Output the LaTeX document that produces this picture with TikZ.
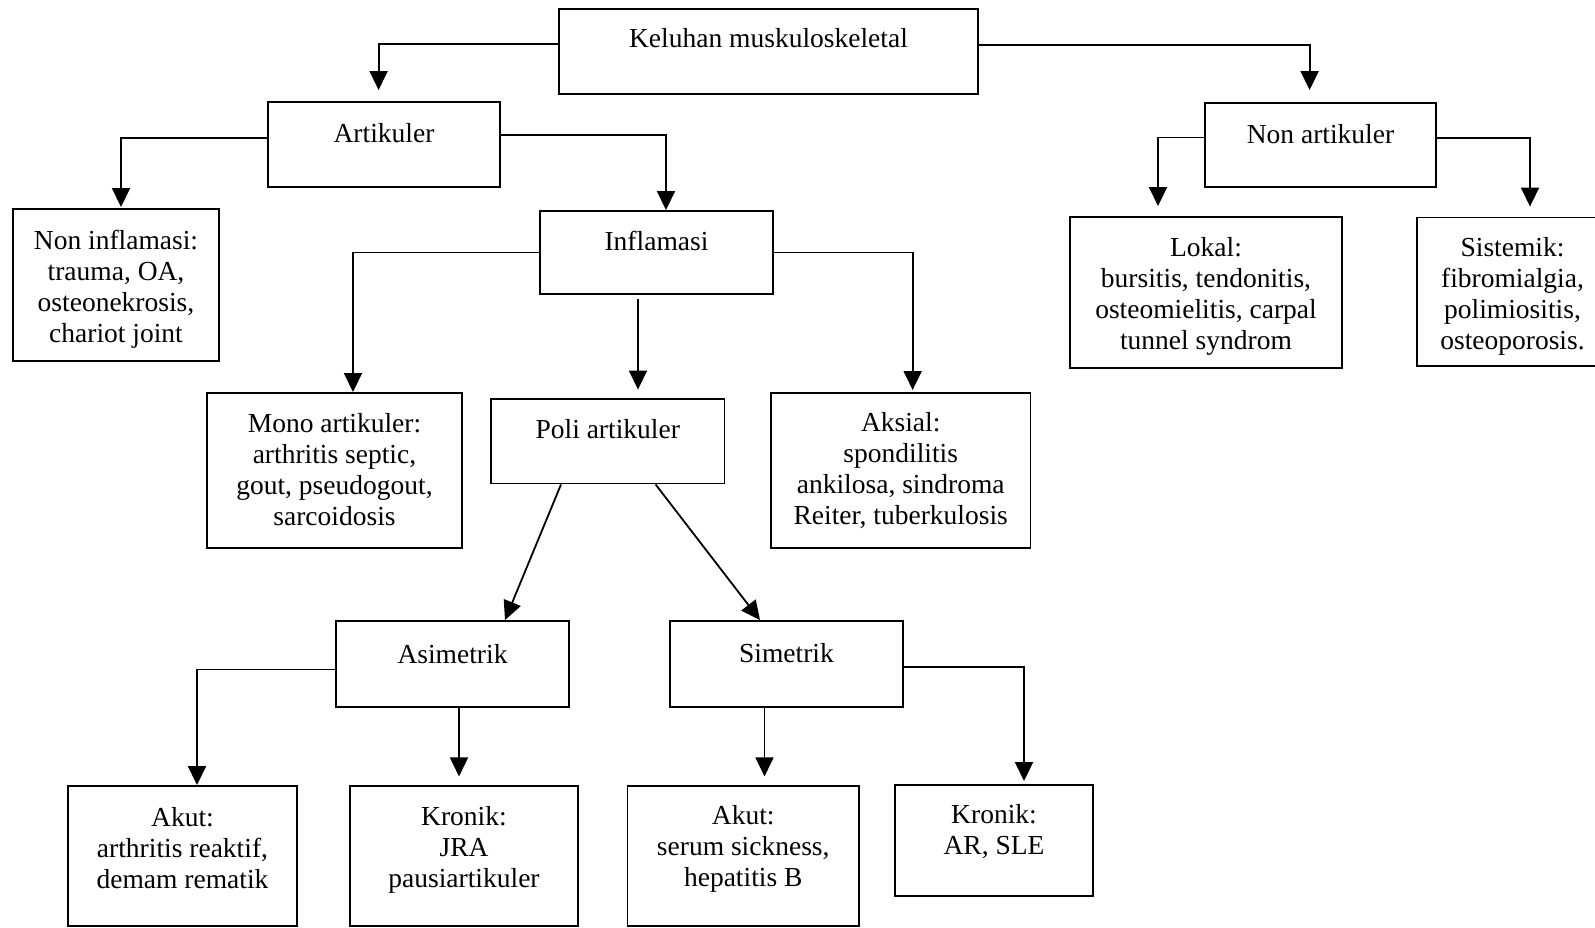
\documentclass[tikz,border=0pt]{standalone}
\usepackage{fontspec}
\setmainfont{Liberation Serif}
\usetikzlibrary{arrows.meta,calc}
\newcommand\firstl{\rule{0pt}{22pt}}
\begin{document}
\begin{tikzpicture}[x=1pt,y=-1pt,
  box/.style={draw, line width=1.9pt, inner sep=0pt, rectangle},
  txt/.style={anchor=north, align=center, inner sep=0pt, font=\fontsize{27.5}{31}\selectfont},
  arr/.style={line width=1.8pt, -{Triangle[length=19pt,width=18pt]}}]
\useasboundingbox (0,0) rectangle (1595,928);
\fill[white] (0,0) rectangle (1595,928);

% boxes
\node[box, minimum width=419pt, minimum height=85pt] (kel) at (768.5,51.5) {};
\node[box, minimum width=232pt, minimum height=85pt] (art) at (384,144.5) {};
\node[box, minimum width=231pt, minimum height=84pt] (nonart) at (1320.5,145) {};
\node[box, minimum width=206pt, minimum height=152pt] (noninf) at (116,285) {};
\node[box, minimum width=233pt, minimum height=83pt] (inf) at (656.5,252.5) {};
\node[box, minimum width=272pt, minimum height=151pt] (lokal) at (1206,292.5) {};
\node[box, minimum width=191pt, minimum height=148.5pt] (sis) at (1512.5,291.75) {};
\node[box, minimum width=255pt, minimum height=155pt] (mono) at (334.5,470.5) {};
\node[box, minimum width=233.5pt, minimum height=84.5pt] (poli) at (607.75,441.25) {};
\node[box, minimum width=259.5pt, minimum height=155pt] (aks) at (900.75,470.5) {};
\node[box, minimum width=233pt, minimum height=86pt] (asim) at (452.5,664) {};
\node[box, minimum width=233pt, minimum height=86pt] (sim) at (786.5,664) {};
\node[box, minimum width=229pt, minimum height=140pt] (akut1) at (182.5,856) {};
\node[box, minimum width=228pt, minimum height=140pt] (kron1) at (464,856) {};
\node[box, minimum width=231.5pt, minimum height=140pt] (akut2) at (743.25,856) {};
\node[box, minimum width=198pt, minimum height=111pt] (kron2) at (994,840.5) {};

% texts
\node[txt] (kelt) at ([yshift=-17.7pt]kel.north) {\firstl Keluhan muskuloskeletal};
\node[txt] (artt) at ([yshift=-19.7pt]art.north) {\firstl Artikuler};
\node[txt] (nonartt) at ([yshift=-19.3pt]nonart.north) {\firstl Non artikuler};
\node[txt] (noninft) at ([yshift=-19pt]noninf.north) {\firstl Non inflamasi:\\trauma, OA,\\osteonekrosis,\\chariot joint};
\node[txt] (inft) at ([yshift=-18.3pt]inf.north) {\firstl Inflamasi};
\node[txt] (lokalt) at ([yshift=-18pt]lokal.north) {\firstl Lokal:\\bursitis, tendonitis,\\osteomielitis, carpal\\tunnel syndrom};
\node[txt] (sist) at ([yshift=-18pt]sis.north) {\firstl Sistemik:\\fibromialgia,\\polimiositis,\\osteoporosis.};
\node[txt] (monot) at ([yshift=-18.7pt]mono.north) {\firstl Mono artikuler:\\arthritis septic,\\gout, pseudogout,\\sarcoidosis};
\node[txt] (polit) at ([yshift=-18.7pt]poli.north) {\firstl Poli artikuler};
\node[txt] (akst) at ([yshift=-17.7pt]aks.north) {\firstl Aksial:\\spondilitis\\ankilosa, sindroma\\Reiter, tuberkulosis};
\node[txt] (asimt) at ([yshift=-21pt]asim.north) {\firstl Asimetrik};
\node[txt] (simt) at ([yshift=-20.5pt]sim.north) {\firstl Simetrik};
\node[txt] (akut1t) at ([yshift=-18.8pt]akut1.north) {\firstl Akut:\\arthritis reaktif,\\demam rematik};
\node[txt] (kron1t) at ([yshift=-18pt]kron1.north) {\firstl Kronik:\\JRA\\pausiartikuler};
\node[txt] (akut2t) at ([yshift=-17.4pt]akut2.north) {\firstl Akut:\\serum sickness,\\hepatitis B};
\node[txt] (kron2t) at ([yshift=-17pt]kron2.north) {\firstl Kronik:\\AR, SLE};

% connectors
\draw[arr] ([yshift=7.2pt]kel.west) -| ($(art.north)+(-5.4pt,11pt)$);
\draw[arr] ([yshift=6.5pt]kel.east) -| ($(nonart.north)+(-10.9pt,12pt)$);
\draw[arr] ([yshift=6.5pt]art.west) -| ($(noninf.north)+(5pt,1pt)$);
\draw[arr] ([yshift=9.8pt]art.east) -| ($(inf.north)+(9.5pt,0pt)$);
\draw[arr] ([yshift=7.5pt]nonart.west) -| ($(lokal.north)+(-48pt,10pt)$);
\draw[arr] ([yshift=7pt]nonart.east) -| ($(sis.north)+(17.5pt,10pt)$);
\draw[arr] (inf.west) -| ($(mono.north)+(18.5pt,0pt)$);
\draw[arr] ($(inf.south)+(-18.5pt,-4pt)$) -- ($(inf.south |- poli.north)+(-18.5pt,8.5pt)$);
\draw[arr] (inf.east) -| ($(aks.north)+(11.9pt,2pt)$);
\draw[arr] ($(poli.south)+(-46.75pt,0pt)$) -- ($(asim.north)+(52.5pt,0pt)$);
\draw[arr] ($(poli.south)+(47.85pt,0pt)$) -- ($(sim.north)+(-26.5pt,0pt)$);
\draw[arr] ($(asim.west)+(0pt,-5.5pt)$) -| ($(akut1.north)+(14.5pt,0pt)$);
\draw[arr] ($(asim.south)+(6.5pt,0pt)$) -- ($(asim.south |- kron1.north)+(6.5pt,8.6pt)$);
\draw[arr] ($(sim.south)+(-22pt,0pt)$) -- ($(sim.south |- akut2.north)+(-22pt,8.6pt)$);
\draw[arr] ($(sim.east)+(0pt,-2.7pt)$) -| ($(kron2.north)+(30pt,3pt)$);
\end{tikzpicture}
\end{document}
